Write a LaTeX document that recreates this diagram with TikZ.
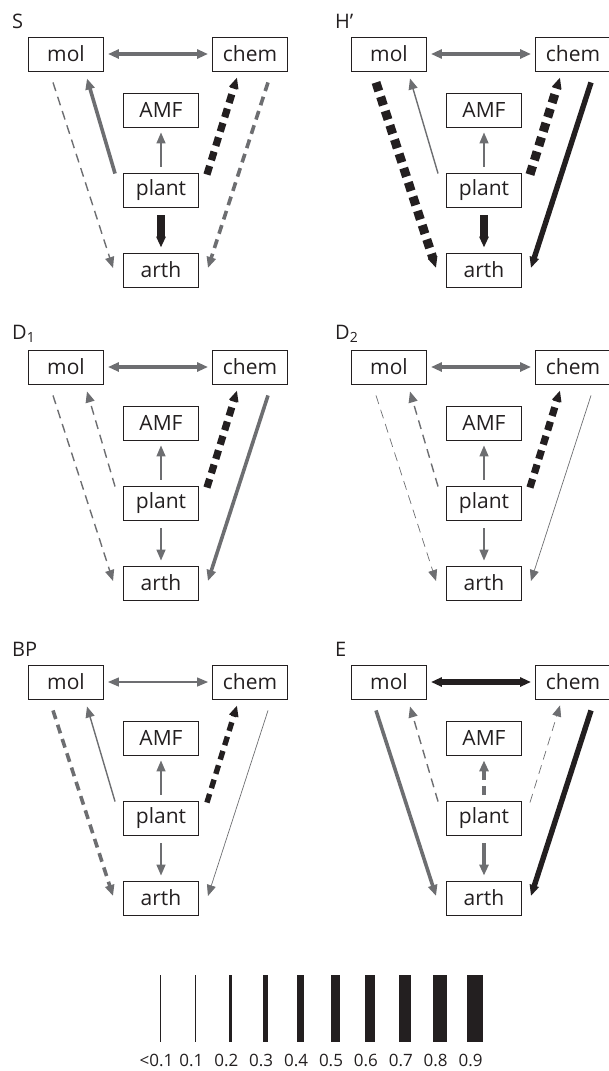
\documentclass[tikz,border=0pt]{standalone}
\usepackage{fontspec}
\setmainfont{Open Sans}
\usetikzlibrary{arrows.meta, calc}

\definecolor{ink}{RGB}{35,31,32}
\definecolor{midgray}{RGB}{109,110,113}

\tikzset{
  box/.style={draw=ink, line width=0.9pt, minimum width=75pt, minimum height=34pt, inner sep=0pt, text=ink, font=\fontsize{21}{24}\selectfont},
  lbl/.style={anchor=west, inner sep=0pt, text=ink, font=\fontsize{20}{24}\selectfont},
  keylbl/.style={inner sep=0pt, text=ink, font=\fontsize{17}{20}\selectfont},
  blk/.style={draw=ink},
  gry/.style={draw=midgray},
  nsig/.style={dash pattern=on 9pt off 6pt},
  w0/.style={line width=0.7pt},
  w1/.style={line width=1.4pt},
  w2/.style={line width=3.6pt},
  w3/.style={line width=5.4pt},
  w4/.style={line width=7.2pt},
  w5/.style={line width=9pt}
}

% boxes of one panel: prefix, offset, title
\newcommand{\panelnodes}[3]{%
  \begin{scope}[shift={(#2)}]
    \node[lbl] (#1-lbl) at (12,21) {#3};
    \node[box] (#1-mol) at (66,54) {mol};
    \node[box] (#1-chem) at (250,54) {chem};
    \node[box] (#1-amf) at (161,110) {AMF};
    \node[box] (#1-plant) at (161,190) {plant};
    \node[box] (#1-arth) at (161,270) {arth};
  \end{scope}}

% paths of one panel: prefix, then mol-chem, mol-arth, plant-mol, plant-AMF, plant-chem, chem-arth, plant-arth
\newcommand{\paneledges}[8]{%
  \draw[#2, <->] ($(#1-mol.east)+(4,0)$) -- ($(#1-chem.west)+(-4,0)$);
  \draw[#3, ->] ($(#1-mol.south)+(-13,11)$) -- ($(#1-arth.west)+(-10,-2)$);
  \draw[#4, ->] ($(#1-plant.north west)+(-8,1)$) -- ($(#1-mol.south)+(21,7)$);
  \draw[#5, ->] ($(#1-plant.north)+(0,-6)$) -- ($(#1-amf.south)+(0,5)$);
  \draw[#6, ->] ($(#1-plant.north east)+(8,2)$) -- ($(#1-chem.south)+(-13,6)$);
  \draw[#7, ->] ($(#1-chem.south)+(18,11)$) -- ($(#1-arth.east)+(9,-2)$);
  \draw[#8, ->] ($(#1-plant.south)+(0,8)$) -- ($(#1-arth.north)+(0,-5)$);}

\begin{document}
\begin{tikzpicture}[x=1pt, y=-1pt, >={Triangle[length=11pt, width=9pt]}]
  \useasboundingbox (0,0) rectangle (608,1071);

  \panelnodes{s}{0,0}{S}
  \panelnodes{h}{323,0}{H’}
  \panelnodes{da}{0,313}{D\textsubscript{1}}
  \panelnodes{db}{323,313}{D\textsubscript{2}}
  \panelnodes{bp}{0,628}{BP}
  \panelnodes{e}{323,628}{E}

  \paneledges{s}{gry,w2}{gry,nsig,w1}{gry,w2}{gry,w1}{blk,nsig,w4}{gry,nsig,w2}{blk,w4}
  \paneledges{h}{gry,w2}{blk,nsig,w5}{gry,w1}{gry,w1}{blk,nsig,w5}{blk,w3}{blk,w4}
  \paneledges{da}{gry,w2}{gry,nsig,w1}{gry,nsig,w1}{gry,w1}{blk,nsig,w4}{gry,w2}{gry,w1}
  \paneledges{db}{gry,w2}{gry,nsig,w0}{gry,nsig,w1}{gry,w1}{blk,nsig,w4}{gry,w0}{gry,w1}
  \paneledges{bp}{gry,w1}{gry,nsig,w2}{gry,w1}{gry,w1}{blk,nsig,w3}{gry,w0}{gry,w1}
  \paneledges{e}{blk,w3}{gry,w2}{gry,nsig,w1}{gry,nsig,w2}{gry,nsig,w0}{blk,w3}{gry,w2}

  % key of path widths
  \foreach \bw/\val [count=\i from 0] in {0.7/{<0.1}, 1.4/0.1, 3.6/0.2, 5.4/0.3, 7.2/0.4, 9/0.5, 10.8/0.6, 12.6/0.7, 14.4/0.8, 16.2/0.9} {
    \coordinate (bar\i-top) at (160.5+34.9*\i, 975);
    \coordinate (bar\i-bot) at (160.5+34.9*\i, 1042);
    \draw[blk, line width=\bw pt] (bar\i-top) -- (bar\i-bot);
    \node[keylbl] (key\i) at (156.5+34.9*\i, 1060) {\val};
  }
\end{tikzpicture}
\end{document}
